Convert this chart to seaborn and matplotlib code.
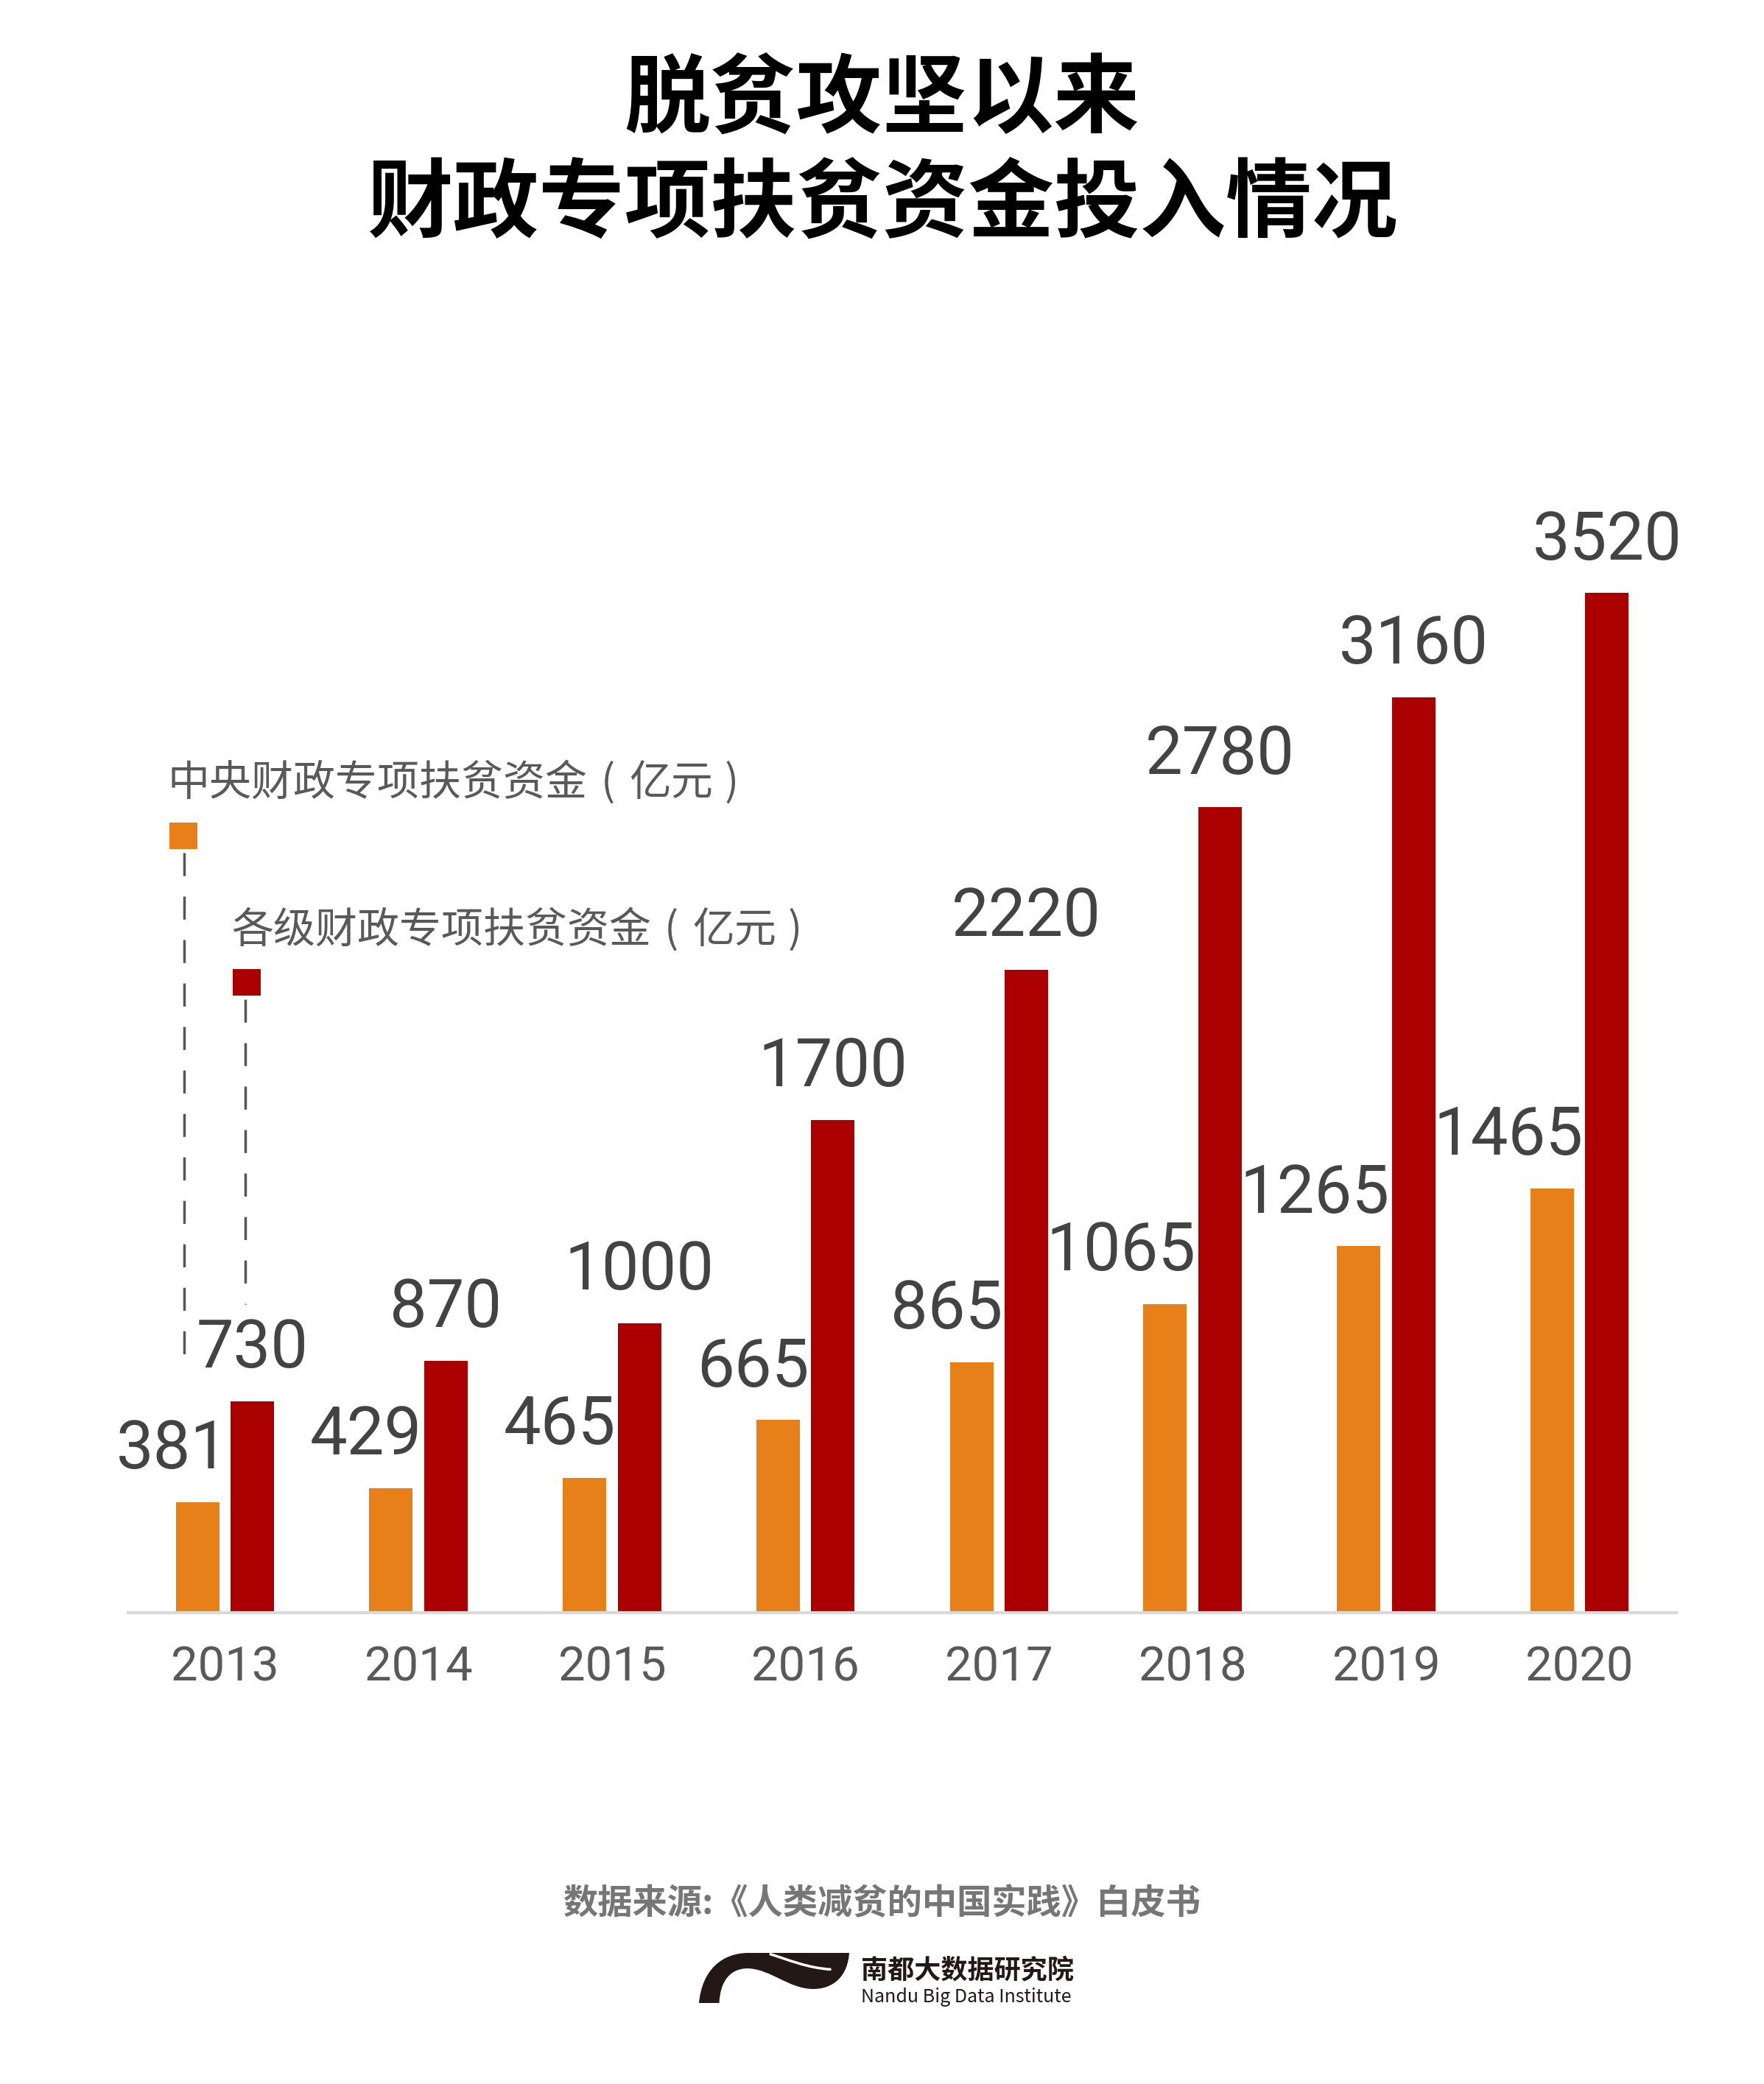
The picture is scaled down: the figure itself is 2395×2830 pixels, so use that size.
import matplotlib
matplotlib.use("Agg")
import matplotlib.pyplot as plt
import seaborn as sns
import pandas as pd
from matplotlib.patches import Rectangle, PathPatch
from matplotlib.path import Path

# ---------------- data ----------------
years = ["2013", "2014", "2015", "2016", "2017", "2018", "2019", "2020"]
central_funds = [381, 429, 465, 665, 865, 1065, 1265, 1465]
all_level_funds = [730, 870, 1000, 1700, 2220, 2780, 3160, 3520]
series_names = ["中央财政专项扶贫资金（亿元）", "各级财政专项扶贫资金（亿元）"]
series_main = ["中央财政专项扶贫资金", "各级财政专项扶贫资金"]
unit_text = "亿元"
title_lines = ["脱贫攻坚以来", "财政专项扶贫资金投入情况"]
source_text = "数据来源:《人类减贫的中国实践》白皮书"
brand_cn = "南都大数据研究院"
brand_en = "Nandu Big Data Institute"

ORANGE = "#E8801A"
RED = "#AA0000"

sns.set_theme(style="white")
plt.rcParams["font.family"] = ["Noto Sans CJK SC", "DejaVu Sans"]

W, H = 2395, 2830
fig = plt.figure(figsize=(W / 100, H / 100), dpi=100)
fig.patch.set_facecolor("white")

# main axes (pixel layout)
ax_left, ax_right, ax_base, ax_top = 174, 2276, 2190, 600
ax = fig.add_axes([ax_left / W, (H - ax_base) / H, (ax_right - ax_left) / W, (ax_base - ax_top) / H])

df = pd.DataFrame({
    "year": years * 2,
    "value": central_funds + all_level_funds,
    "series": [series_names[0]] * len(years) + [series_names[1]] * len(years),
})

sns.barplot(data=df, x="year", y="value", hue="series", hue_order=series_names,
            palette=[ORANGE, RED], width=0.568, gap=0.21, saturation=1,
            legend=False, linewidth=0, errorbar=None, ax=ax)

ax.set_xlim(-0.5, 7.5)
ax.set_ylim(0, 4042)
ax.set_xlabel("")
ax.set_ylabel("")
ax.set_yticks([])
for s in ["top", "left", "right"]:
    ax.spines[s].set_visible(False)
ax.spines["bottom"].set_color("#D9D9D9")
ax.spines["bottom"].set_linewidth(3)

num_font = ["Roboto", "Liberation Sans", "DejaVu Sans"]
ax.tick_params(axis="x", length=0, pad=31, labelsize=47, labelcolor="#595959")
for lab in ax.get_xticklabels():
    lab.set_fontfamily(num_font)
    lab.set_fontweight("normal")
ax.patch.set_alpha(0)

# value labels
for bar, v in zip(ax.containers[0], central_funds):
    ax.annotate(str(v), xy=(bar.get_x() + bar.get_width(), bar.get_height()),
                xytext=(9, 33), textcoords="offset points", ha="right", va="baseline",
                fontsize=65, color="#434343", fontfamily=num_font, fontweight="normal")
for bar, v in zip(ax.containers[1], all_level_funds):
    ax.annotate(str(v), xy=(bar.get_x() + bar.get_width() / 2, bar.get_height()),
                xytext=(0, 33), textcoords="offset points", ha="center", va="baseline",
                fontsize=65, color="#434343", fontfamily=num_font, fontweight="normal")

# ---------------- decoration overlay (pixel coords) ----------------
deco = fig.add_axes([0, 0, 1, 1])
deco.set_xlim(0, W)
deco.set_ylim(H, 0)
deco.axis("off")
deco.patch.set_alpha(0)

# title
deco.text(W / 2, 138, title_lines[0], ha="center", va="center", fontsize=84,
          fontweight="heavy", color="black")
deco.text(W / 2, 279, title_lines[1], ha="center", va="center", fontsize=84,
          fontweight="heavy", color="black")

# legend (centered parentheses like the original)
LEG_FS = 41
em = LEG_FS * 100 / 72.0
def legend_label(x0, yc, main):
    kw = dict(va="center", fontsize=LEG_FS, color="#595959")
    deco.text(x0, yc, main, ha="left", **kw)
    deco.text(x0 + 10.49 * em, yc, "(", ha="center", **kw)
    deco.text(x0 + 11.0 * em, yc, unit_text, ha="left", **kw)
    deco.text(x0 + 13.43 * em, yc, ")", ha="center", **kw)

legend_label(228, 1064, series_main[0])
legend_label(314, 1264, series_main[1])
deco.add_patch(Rectangle((230, 1117), 38, 36, facecolor=ORANGE, edgecolor="none"))
deco.add_patch(Rectangle((316, 1316), 38, 36, facecolor=RED, edgecolor="none"))
deco.plot([250, 250], [1158, 1852], color="#555555", lw=2.5, linestyle=(0, (9, 8)))
deco.plot([333, 333], [1357, 1771], color="#555555", lw=2.5, linestyle=(0, (9, 8)))

# source
deco.text(W / 2, 2584, source_text, ha="center", va="center", fontsize=34,
          fontweight="bold", color="#767676")

# logo
lx0, ly0, lw_, lh_ = 949, 2652, 204, 68
def P(u, v):
    return (lx0 + u * lw_, ly0 + v * lh_)
verts = [P(0, 1),
         P(0.02, 0.35), P(0.15, 0.0), P(0.33, 0.0),
         P(1.0, 0.0),
         P(0.99, 0.45), P(0.9, 0.72), P(0.76, 0.72),
         P(0.6, 0.72), P(0.48, 0.33), P(0.33, 0.31),
         P(0.2, 0.3), P(0.14, 0.6), P(0.135, 1.0),
         P(0, 1)]
codes = [Path.MOVETO,
         Path.CURVE4, Path.CURVE4, Path.CURVE4,
         Path.LINETO,
         Path.CURVE4, Path.CURVE4, Path.CURVE4,
         Path.CURVE4, Path.CURVE4, Path.CURVE4,
         Path.CURVE4, Path.CURVE4, Path.CURVE4,
         Path.CLOSEPOLY]
deco.add_patch(PathPatch(Path(verts, codes), facecolor="#231815", edgecolor="none"))
wv = [P(0.47, 0.02), P(0.6, 0.14), P(0.72, 0.3), P(0.88, 0.33)]
deco.add_patch(PathPatch(Path(wv, [Path.MOVETO, Path.CURVE4, Path.CURVE4, Path.CURVE4]),
                         facecolor="none", edgecolor="white", lw=2.5))
deco.text(1169, 2676, brand_cn, ha="left", va="center", fontsize=26, fontweight="bold",
          color="#231815")
deco.text(1169, 2712, brand_en, ha="left", va="center", fontsize=18, color="#231815")

fig.savefig("out.png", dpi=100, facecolor="white")
